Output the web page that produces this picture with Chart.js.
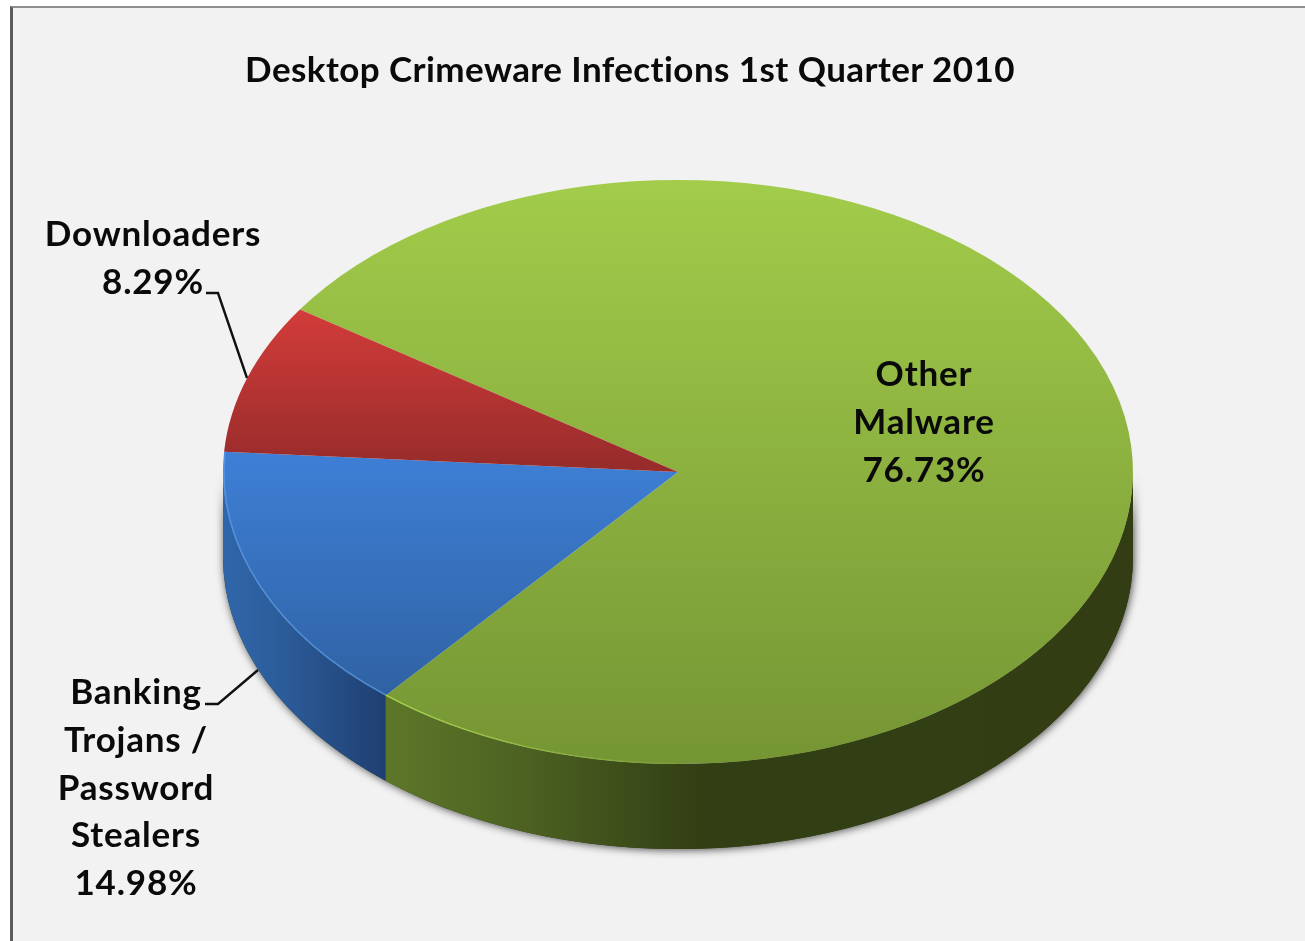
<!DOCTYPE html>
<html lang="en">
<head>
    <meta charset="UTF-8">
    <title>Desktop Crimeware Infections 1st Quarter 2010</title>
    <script src="https://cdn.jsdelivr.net/npm/chart.js"></script>
    <style>
        html, body { margin: 0; height: 100%; background: #fff; overflow: hidden; }
        body { font-family: Lato, sans-serif; font-weight: 700; color: #0a0a0a; font-variant-ligatures: none; }
        #panel { position: absolute; left: 10px; top: 6px; right: 0; bottom: 0; background: #f2f2f2;
                 border-left: 3px solid #5c5c5c; border-top: 2px solid #8e8e8e; }
        #pieChart { position: absolute; left: 0; top: 0; }
        .label { position: absolute; transform: translateX(-50%); text-align: center; white-space: nowrap;
                 font-size: 35px; line-height: 47.8px; letter-spacing: 0.8px; }
        #title { position: absolute; left: 630px; top: 46px; transform: translateX(-50%); white-space: nowrap;
                 font-size: 35px; line-height: 44px; letter-spacing: 0.42px; }
    </style>
</head>
<body>
    <div id="panel"></div>
    <canvas id="pieChart" width="1305" height="941"></canvas>
    <div id="title"></div>

    <script>
        const chartTitle = 'Desktop Crimeware Infections 1st Quarter 2010';
        const categories = ['Other Malware', 'Banking Trojans / Password Stealers', 'Downloaders'];
        const shares = [76.73, 14.98, 8.29];
        const labelLines = [['Other', 'Malware'], ['Banking', 'Trojans /', 'Password', 'Stealers'], ['Downloaders']];
        const labelPlaces = [[924, 349], [136, 667], [153, 209]];

        // top face gradients: [colour, screen y] at both ends
        const faceStops = [
            [['#a2cc4a', 180], ['#759534', 765]],
            [['#3e7fd6', 453], ['#2f62a3', 695]],
            [['#d33c3a', 310], ['#982c2b', 465]]
        ];

        const centerX = 678, centerY = 472;   // where the pie centre lands on the page
        const tilt = 0.642;                   // vertical squash of the disc
        const depth = 85;                     // height of the side wall

        document.getElementById('title').textContent = chartTitle;
        labelLines.forEach((lines, i) => {
            const el = document.createElement('div');
            el.className = 'label';
            el.style.left = labelPlaces[i][0] + 'px';
            el.style.top = labelPlaces[i][1] + 'px';
            el.innerHTML = lines.concat(shares[i].toFixed(2) + '%').join('<br>');
            document.body.appendChild(el);
        });

        // side wall, drop shadow and rim light, drawn around the squashed pie
        function wallPath(ctx, r, from, to) {
            ctx.beginPath();
            ctx.ellipse(centerX, centerY, r, r * tilt, 0, from, to);
            ctx.ellipse(centerX, centerY + depth, r, r * tilt, 0, to, from, true);
            ctx.closePath();
        }

        function wallGradient(ctx, stops) {
            const g = ctx.createLinearGradient(stops[0][1], 0, stops[stops.length - 1][1], 0);
            const span = stops[stops.length - 1][1] - stops[0][1];
            stops.forEach(s => g.addColorStop((s[1] - stops[0][1]) / span, s[0]));
            return g;
        }

        const tiltedPie = {
            id: 'tiltedPie',
            beforeDatasetsDraw(chart) {
                const ctx = chart.ctx;
                const arcs = chart.getDatasetMeta(0).data;
                const r = arcs[0].outerRadius;

                // soft shadow under the whole disc
                ctx.save();
                ctx.shadowColor = 'rgba(0,0,0,0.7)';
                ctx.shadowBlur = 8;
                ctx.shadowOffsetX = 1;
                ctx.shadowOffsetY = 1;
                ctx.fillStyle = '#2f3a14';
                wallPath(ctx, r, 0, Math.PI);
                ctx.fill();
                ctx.restore();

                // only the part of each slice facing the viewer has a wall
                const wallStops = [
                    [['#5d7729', 385], ['#4d6222', 520], ['#323f14', 700], ['#323d14', 1133]],
                    [['#2f67ab', 222], ['#2b5a97', 290], ['#1f3f72', 385]]
                ];
                [0, 1].forEach(i => {
                    const a = arcs[i];
                    const from = Math.max(a.startAngle, 0);
                    const to = Math.min(a.endAngle, Math.PI);
                    wallPath(ctx, r, from, to);
                    ctx.fillStyle = wallGradient(ctx, wallStops[i]);
                    ctx.fill();
                });

                ctx.save();
                ctx.translate(centerX, centerY);
                ctx.scale(1, tilt);
                ctx.translate(-arcs[0].x, -arcs[0].y);
            },
            afterDatasetsDraw(chart) {
                const ctx = chart.ctx;
                const arcs = chart.getDatasetMeta(0).data;
                const r = arcs[0].outerRadius;
                ctx.restore();

                // thin lit edge where the top face meets the wall
                ctx.lineWidth = 1.5;
                ctx.strokeStyle = 'rgba(91,155,230,0.75)';
                ctx.beginPath();
                ctx.ellipse(centerX, centerY, r - 1, (r - 1) * tilt, 0, arcs[1].startAngle, arcs[1].endAngle);
                ctx.stroke();
                const lit = ctx.createLinearGradient(385, 0, 720, 0);
                lit.addColorStop(0, '#a6d24c');
                lit.addColorStop(1, 'rgba(166,210,76,0)');
                ctx.strokeStyle = lit;
                ctx.beginPath();
                ctx.ellipse(centerX, centerY, r - 1, (r - 1) * tilt, 0, Math.PI / 2, arcs[1].startAngle);
                ctx.stroke();

                // leader lines
                ctx.strokeStyle = '#111';
                ctx.lineWidth = 2.4;
                ctx.beginPath();
                ctx.moveTo(206, 293); ctx.lineTo(218, 293); ctx.lineTo(247, 378);
                ctx.moveTo(205, 704); ctx.lineTo(218, 704); ctx.lineTo(258, 670);
                ctx.stroke();
            }
        };

        const ctx = document.getElementById('pieChart').getContext('2d');
        const toChartY = y => (y - centerY) / tilt + 455;

        new Chart(ctx, {
            type: 'pie',
            data: {
                labels: categories,
                datasets: [{
                    data: shares,
                    borderWidth: 0,
                    clip: false,
                    backgroundColor: c => {
                        const s = faceStops[c.dataIndex];
                        const g = ctx.createLinearGradient(0, toChartY(s[0][1]), 0, toChartY(s[1][1]));
                        g.addColorStop(0, s[0][0]);
                        g.addColorStop(1, s[1][0]);
                        return g;
                    }
                }]
            },
            options: {
                responsive: false,
                animation: false,
                rotation: -56.2,
                layout: { padding: { left: 223, right: 172, top: 0, bottom: 31 } },
                plugins: { legend: { display: false }, title: { display: false }, tooltip: { enabled: false } }
            },
            plugins: [tiltedPie]
        });
    </script>
</body>
</html>
